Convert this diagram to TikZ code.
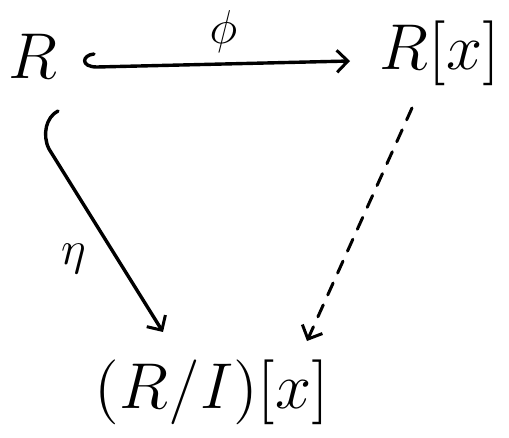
\documentclass[tikz,border=0pt]{standalone}
\usepackage{amsmath,amssymb}
\usepackage{tikz}
\usetikzlibrary{arrows.meta,positioning}

\begin{document}
\begin{tikzpicture}[x=1pt,y=1pt,>={Straight Barb[length=11pt,width=22pt,line width=3pt]},
ring/.style={inner sep=0pt,font=\Large,scale=4.5},
map/.style={->,line width=3.4pt,line cap=round,line join=round},
lift/.style={->,line width=3pt,line cap=round,dash pattern=on 13pt off 11pt},
map label/.style={inner sep=0pt,font=\Large,scale=3.3}]
\useasboundingbox (0,0) rectangle (509,437);
\node[ring] (r) at (33,381) {$R$};
\node[ring] (rx) at (440,384) {$R[x]$};
\node[ring] (rix) at (212,45) {$(R/I)[x]$};
% hooked inclusion
\coordinate (ph) at (94,383);
\coordinate (hk) at (58,326);
\draw[map] (ph) .. controls (82,382) and (80,370) .. (97,370) -- node[map label,above=6pt] (phi) {$\phi$} ([xshift=-90pt,yshift=-8pt]rx.center);
\draw[map] (hk) .. controls (46,320) and (42,302) .. (49,288) -- node[map label,pos=0.6,left=26pt] (eta) {$\eta$} ([xshift=-49pt,yshift=60pt]rix.center);
\draw[lift] ([xshift=-28pt,yshift=-55pt]rx.center) -- ([xshift=95pt,yshift=51pt]rix.center);
\end{tikzpicture}
\end{document}
